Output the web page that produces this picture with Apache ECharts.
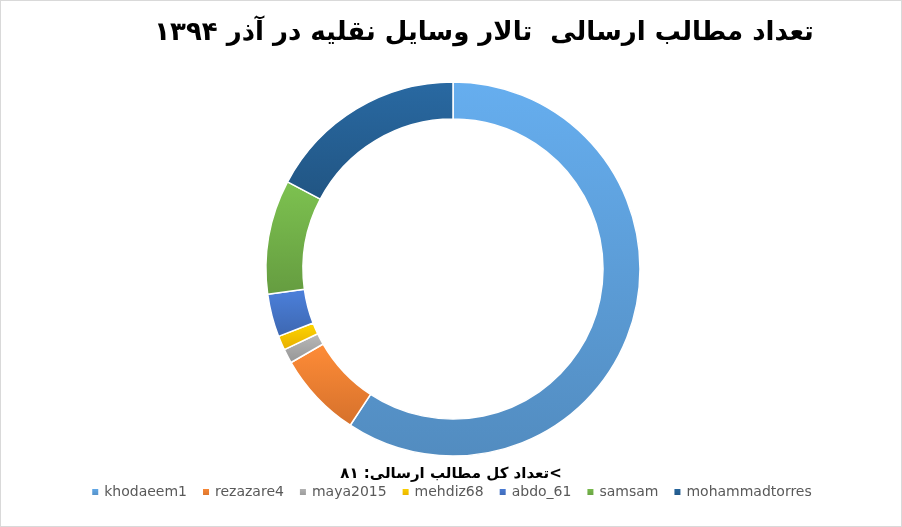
<!DOCTYPE html><html><head><meta charset="utf-8">
<script src="https://cdn.jsdelivr.net/npm/echarts@6/dist/echarts.min.js"></script>
<style>body{margin:0;background:#fff}#c{width:902px;height:527px;box-sizing:border-box;border:1px solid #d9d9d9}</style></head><body><div id="c"></div><script>
const names=['khodaeem1','rezazare4','maya2015','mehdiz68','abdo_61','samsam','mohammadtorres'];
const values=[48,6,1,1,3,8,14];
const colors=['#5B9BD5','#ED7D31','#A5A5A5','#FFC000','#4472C4','#70AD47','#255E91'];
const c=echarts.init(document.getElementById('c'));
function shade(h,f){const n=parseInt(h.slice(1),16);let r=n>>16,g=(n>>8)&255,b=n&255;r=Math.round(r*f);g=Math.round(g*f);b=Math.round(b*f);return `rgb(${Math.min(r,255)},${Math.min(g,255)},${Math.min(b,255)})`;}
c.setOption({
title:{text:'تعداد مطالب ارسالی  تالار وسایل نقلیه در آذر ۱۳۹۴',left:478,textAlign:'center',top:14,textStyle:{fontFamily:'DejaVu Sans',fontWeight:'bold',fontSize:26,color:'#000'}},
graphic:[{type:'text',left:'center',top:466,style:{text:'تعداد کل مطالب ارسالی: ٨١<',font:'bold 15px "DejaVu Sans"',fill:'#000'}}],
legend:{bottom:22,left:'center',itemWidth:8,itemHeight:8,itemGap:14,icon:'rect',textStyle:{fontFamily:'DejaVu Sans',fontSize:14,color:'#595959'},data:names},
series:[{type:'pie',center:[452,268],radius:[150,187],startAngle:90,clockwise:true,label:{show:false},emphasis:{disabled:true},
data:names.map((n,i)=>({name:n,value:values[i],itemStyle:{color:{type:'linear',x:0,y:0,x2:0,y2:1,colorStops:[{offset:0,color:shade(colors[i],1.12)},{offset:1,color:shade(colors[i],0.9)}]},borderColor:'#fff',borderWidth:1.5}}))}]
});
</script></body></html>
